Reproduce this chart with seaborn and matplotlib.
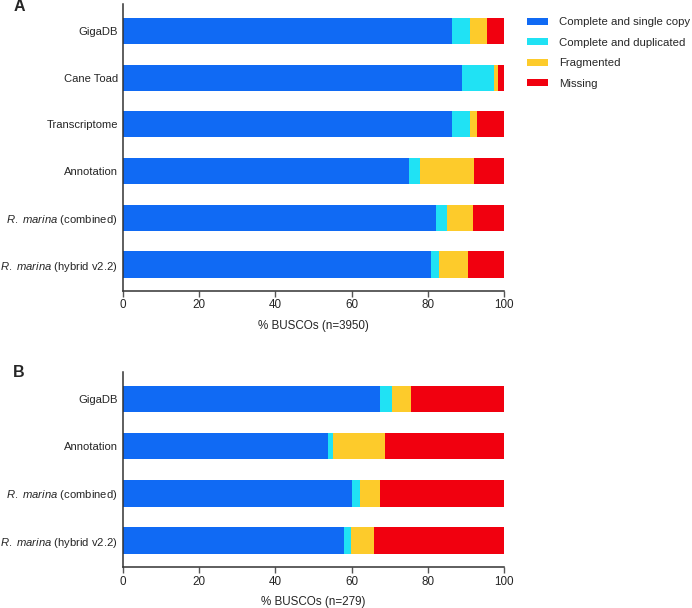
import pandas as pd
import seaborn as sns
import matplotlib.pyplot as plt
from matplotlib.patches import Patch
import numpy as np

# BUSCO results, % of BUSCOs
names_a = ['GigaDB', 'Cane Toad', 'Transcriptome', 'Annotation',
           r'$\it{R.}$ $\it{marina}$ (combined)', r'$\it{R.}$ $\it{marina}$ (hybrid v2.2)']
single_a = [86.2, 88.8, 86.3, 74.9, 82.1, 80.9]
dup_a = [4.8, 8.5, 4.8, 2.9, 3.0, 2.0]
frag_a = [4.5, 1.0, 1.8, 14.2, 6.7, 7.6]
miss_a = [4.5, 1.7, 7.1, 8.0, 8.2, 9.5]

names_b = ['GigaDB', 'Annotation',
           r'$\it{R.}$ $\it{marina}$ (combined)', r'$\it{R.}$ $\it{marina}$ (hybrid v2.2)']
single_b = [67.3, 53.7, 60.1, 57.9]
dup_b = [3.2, 1.3, 2.2, 1.8]
frag_b = [5.1, 13.7, 5.0, 6.1]
miss_b = [24.4, 31.3, 32.7, 34.2]

cats = ['Complete and single copy', 'Complete and duplicated', 'Fragmented', 'Missing']
colors = ['#106AF4', '#20E2F4', '#FDCB2B', '#F1000F']

sns.set_style('white')
plt.rcParams['font.family'] = ['Liberation Sans', 'DejaVu Sans']
plt.rcParams['mathtext.fontset'] = 'custom'
plt.rcParams['mathtext.rm'] = 'Liberation Sans'
plt.rcParams['mathtext.it'] = 'Liberation Sans:italic'

FS = 8.4


def stacked(ax, names, parts, xlabel):
	df = pd.DataFrame(dict(zip(cats, parts)), index=names)
	cum = df.cumsum(axis=1)
	# draw from the full bar down so each segment shows on top
	for cat, col in reversed(list(zip(cats, colors))):
		sns.barplot(x=cum[cat].values, y=names, color=col, orient='h',
					width=0.56, linewidth=0, saturation=1, ax=ax)
	ax.set_xlim(0, 100)
	ax.set_ylim(len(names) - 1 + 0.565, -0.565)
	ax.set_xticks([0, 20, 40, 60, 80, 100])
	ax.set_xlabel(xlabel, fontsize=FS, labelpad=6)
	ax.set_ylabel('')
	for s in ['top', 'right']:
		ax.spines[s].set_visible(False)
	for s in ['left', 'bottom']:
		ax.spines[s].set_color('#333333')
		ax.spines[s].set_linewidth(1.1)
	ax.tick_params(axis='x', bottom=True, length=4, width=1, color='#555555',
				   labelsize=FS, pad=2)
	ax.tick_params(axis='y', left=False, length=0, labelsize=8.1, pad=3.5)


fig = plt.figure(figsize=(6.92, 6.08), dpi=100)
ax1 = fig.add_axes([0.1773, 0.5214, 0.5515, 0.4712])
ax2 = fig.add_axes([0.1773, 0.0669, 0.5515, 0.3207])

stacked(ax1, names_a, [single_a, dup_a, frag_a, miss_a], '% BUSCOs (n=3950)')
stacked(ax2, names_b, [single_b, dup_b, frag_b, miss_b], '% BUSCOs (n=279)')

fig.text(0.019, 0.9827, 'A', fontsize=11.5, fontweight='bold', va='baseline')
fig.text(0.019, 0.3804, 'B', fontsize=11.5, fontweight='bold', va='baseline')

handles = [Patch(facecolor=c, edgecolor='none') for c in colors]
fig.legend(handles, cats, loc='upper left', bbox_to_anchor=(0.755, 0.979),
		   frameon=False, fontsize=8.2, handlelength=1.8, handleheight=0.55,
		   handletextpad=1.0, labelspacing=0.92, borderaxespad=0)

plt.savefig('out.png', dpi=100)
